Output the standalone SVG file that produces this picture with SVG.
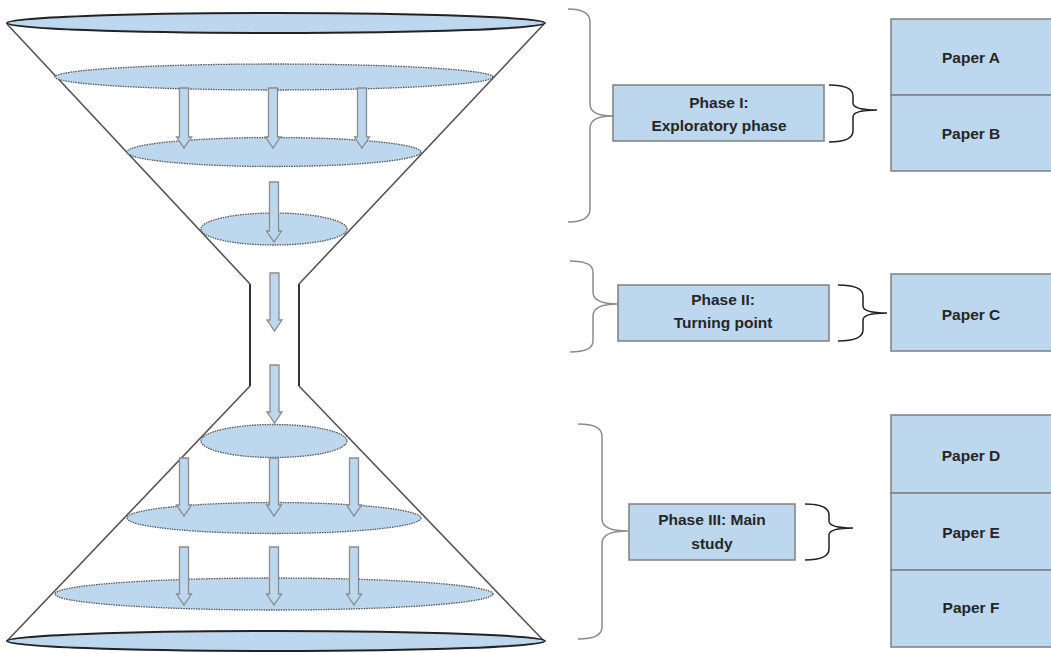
<svg xmlns="http://www.w3.org/2000/svg" xmlns:xlink="http://www.w3.org/1999/xlink" width="1051" height="653" viewBox="0 0 1051 653">
  <style>
    .funnel { fill: none; stroke: #555; stroke-width: 1.6; }
    .neck { fill: none; stroke: #333; stroke-width: 2; }
    .rim { fill: #bdd7ee; stroke: #222; stroke-width: 2; }
    .layer { fill: #bdd7ee; stroke: #555; stroke-width: 1.3; stroke-dasharray: 1.5 1; }
    .flow { fill: #bdd7ee; stroke: #8c8c8c; stroke-width: 1.3; }
    .box { fill: #bdd7ee; stroke: #7f7f7f; stroke-width: 1.5; }
    .brace-big { fill: none; stroke: #8c8c8c; stroke-width: 1.5; }
    .brace-small { fill: none; stroke: #222; stroke-width: 1.5; }
    .label { font-family: "Liberation Sans", Arial, sans-serif; font-weight: bold; font-size: 15.5px; fill: #262626; text-anchor: middle; }
  </style>
  <defs>
    <!-- block arrow pointing down, origin at top centre -->
    <path id="arrow60" d="M-4.5,0 H4.5 V49 H7.5 L0,60 L-7.5,49 H-4.5 Z"/>
    <path id="arrow58" d="M-4.5,0 H4.5 V47 H7.5 L0,58 L-7.5,47 H-4.5 Z"/>
  </defs>

  <!-- hourglass outline -->
  <g id="hourglass">
    <path class="funnel" d="M7,24 L250,284 M250,386 L7,641 M544,24 L299,284 M299,386 L544,641"/>
    <path class="neck" d="M250,284 V386 M299,284 V386"/>
  </g>

  <!-- layers of the upper cone -->
  <g id="upper-cone">
    <ellipse class="layer" cx="274" cy="77" rx="219" ry="13"/>
    <ellipse class="layer" cx="274" cy="152" rx="147" ry="14.5"/>
    <ellipse class="layer" cx="274" cy="229" rx="73" ry="16"/>
  </g>

  <!-- layers of the lower cone -->
  <g id="lower-cone">
    <ellipse class="layer" cx="274" cy="441" rx="73" ry="16.5"/>
    <ellipse class="layer" cx="274" cy="518" rx="147" ry="15.5"/>
    <ellipse class="layer" cx="274" cy="594" rx="219" ry="16"/>
  </g>

  <g id="rims">
    <ellipse class="rim" cx="276" cy="23" rx="269" ry="10"/>
    <ellipse class="rim" cx="276" cy="641" rx="269" ry="10"/>
  </g>

  <!-- flow arrows -->
  <g id="connectors">
    <use xlink:href="#arrow60" class="flow" x="184" y="88"/>
    <use xlink:href="#arrow60" class="flow" x="273" y="88"/>
    <use xlink:href="#arrow60" class="flow" x="362" y="88"/>
    <use xlink:href="#arrow60" class="flow" x="274" y="182"/>
    <use xlink:href="#arrow58" class="flow" x="274.5" y="273"/>
    <use xlink:href="#arrow58" class="flow" x="274.5" y="365"/>
    <use xlink:href="#arrow58" class="flow" x="184" y="458"/>
    <use xlink:href="#arrow58" class="flow" x="274" y="458"/>
    <use xlink:href="#arrow58" class="flow" x="354" y="458"/>
    <use xlink:href="#arrow58" class="flow" x="184" y="547"/>
    <use xlink:href="#arrow58" class="flow" x="274" y="547"/>
    <use xlink:href="#arrow58" class="flow" x="354" y="547"/>

    <!-- braces grouping cone sections to phases -->
    <path class="brace-big" d="M568,9 Q590,9 590,22 V104 Q590,116 613,116 Q590,116 590,128 V209 Q590,222 568,222"/>
    <path class="brace-big" d="M570,261 Q593,261 593,272 V292 Q593,304 618,304 Q593,304 593,316 V341 Q593,352 570,352"/>
    <path class="brace-big" d="M578,424 Q602,424 602,436 V519 Q602,531 628,531 Q602,531 602,543 V627 Q602,639 578,639"/>

    <!-- braces grouping phases to papers -->
    <path class="brace-small" d="M829,85 Q853,85 853,96 V103 Q853,110 877,110 Q853,110 853,117 V131 Q853,142 829,142"/>
    <path class="brace-small" d="M838,285 Q863,285 863,296 V306 Q863,313 887,313 Q863,313 863,320 V330 Q863,341 838,341"/>
    <path class="brace-small" d="M805,504 Q829,504 829,515 V521 Q829,528 853,528 Q829,528 829,535 V549 Q829,560 805,560"/>
  </g>

  <!-- phases -->
  <g id="phase-1">
    <rect class="box" x="613" y="85" width="211" height="56"/>
    <text class="label" x="719" y="108">Phase I:</text>
    <text class="label" x="719" y="131">Exploratory phase</text>
  </g>
  <g id="phase-2">
    <rect class="box" x="618" y="285" width="211" height="56"/>
    <text class="label" x="723" y="305">Phase II:</text>
    <text class="label" x="723" y="328">Turning point</text>
  </g>
  <g id="phase-3">
    <rect class="box" x="629" y="504" width="166" height="56"/>
    <text class="label" x="712" y="525">Phase III: Main</text>
    <text class="label" x="712" y="549">study</text>
  </g>

  <!-- papers -->
  <g id="paper-a">
    <rect class="box" x="891" y="19" width="180" height="76"/>
    <text class="label" x="971" y="63">Paper A</text>
  </g>
  <g id="paper-b">
    <rect class="box" x="891" y="95" width="180" height="76"/>
    <text class="label" x="971" y="139">Paper B</text>
  </g>
  <g id="paper-c">
    <rect class="box" x="891" y="274" width="180" height="77"/>
    <text class="label" x="971" y="320">Paper C</text>
  </g>
  <g id="paper-d">
    <rect class="box" x="891" y="415" width="180" height="78"/>
    <text class="label" x="971" y="461">Paper D</text>
  </g>
  <g id="paper-e">
    <rect class="box" x="891" y="493" width="180" height="77"/>
    <text class="label" x="971" y="538">Paper E</text>
  </g>
  <g id="paper-f">
    <rect class="box" x="891" y="570" width="180" height="77"/>
    <text class="label" x="971" y="613">Paper F</text>
  </g>
</svg>
